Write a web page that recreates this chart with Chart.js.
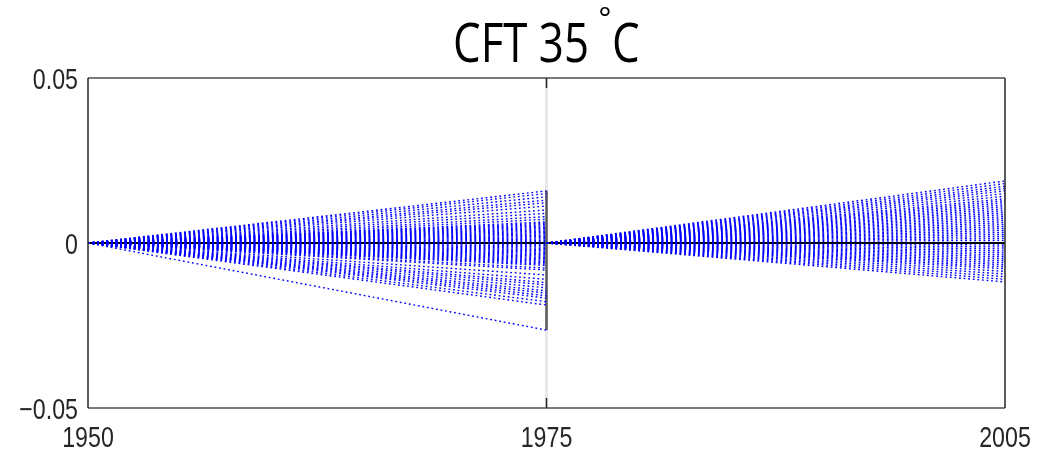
<!DOCTYPE html>
<html>
<head>
<meta charset="utf-8">
<script src="https://cdn.jsdelivr.net/npm/chart.js@4.4.1/dist/chart.umd.min.js"></script>
<style>
  html, body { margin: 0; padding: 0; background: #fff; }
  #wrap { width: 1056px; height: 452px; }
</style>
</head>
<body>
<div id="wrap"><canvas id="cft"></canvas></div>
<script>
// x runs over two periods: 0 = 1950, 1 = 1975, 2 = 2005
const years = ['1950', '1975', '2005'];
const xTickPos = [0, 1, 2];
const yTicks = [-0.05, 0, 0.05];
const yTickLabels = ['\u22120.05', '0', '0.05'];

// ensemble trend at the end of the first period (1950 -> 1975)
const endA = [
  0.0158, 0.0150, 0.0140, 0.0130, 0.0122, 0.0112, 0.0100, 0.0090, 0.0080, 0.0072,
  0.0064, 0.0060, 0.0056, 0.0052, 0.0048, 0.0044, 0.0040, 0.0036, 0.0032, 0.0028,
  0.0024, 0.0020, 0.0016, 0.0012, 0.0008, 0.0004,
  -0.0004, -0.0008, -0.0012, -0.0016, -0.0020, -0.0024, -0.0028, -0.0032, -0.0036,
  -0.0040, -0.0044, -0.0048, -0.0052, -0.0056, -0.0060, -0.0064, -0.0068,
  -0.0076, -0.0082, -0.0097, -0.0110, -0.0120, -0.0127, -0.0136, -0.0145, -0.0152,
  -0.0160, -0.0167, -0.0178, -0.0188, -0.0264
];

// ensemble trend at the end of the second period (1975 -> 2005)
const endB = [
  0.0188, 0.0180, 0.0172, 0.0165, 0.0158, 0.0150, 0.0142,
  0.0134, 0.0128, 0.0122, 0.0116, 0.0110, 0.0104, 0.0098, 0.0092, 0.0086, 0.0080,
  0.0074, 0.0068, 0.0062, 0.0056, 0.0050, 0.0044, 0.0038, 0.0032, 0.0026, 0.0020,
  0.0014, 0.0008,
  -0.0006, -0.0012, -0.0018, -0.0024, -0.0030, -0.0036, -0.0042, -0.0048, -0.0054,
  -0.0060, -0.0066, -0.0072, -0.0078,
  -0.0086, -0.0094, -0.0102, -0.0110, -0.0118
];

const FONT = "'Liberation Sans', sans-serif";
const TITLE_FONT = "'Open Sans', 'Noto Sans', sans-serif";
Chart.defaults.font.family = FONT;

function member(x0, x1, v) {
  return {
    data: [{x: x0, y: 0}, {x: x1, y: v}],
    borderColor: '#0000ff',
    borderWidth: 1.4,
    borderDash: [1.8, 2.8],
    pointRadius: 0,
    fill: false,
    tension: 0
  };
}

const datasets = [];
endA.forEach(v => datasets.push(member(0, 1, v)));
endB.forEach(v => datasets.push(member(1, 2, v)));

// jump back to zero at 1975
datasets.push({
  data: [{x: 1, y: Math.max(...endA)}, {x: 1, y: Math.min(...endA)}],
  borderColor: '#5a5a5a', borderWidth: 2.5, pointRadius: 0, fill: false
});
// zero line
datasets.push({
  data: [{x: 0, y: 0}, {x: 2, y: 0}],
  borderColor: '#000000', borderWidth: 2, pointRadius: 0, fill: false
});

// light marker line at 1975 under the data
const splitLine = {
  id: 'splitLine',
  beforeDatasetsDraw(chart) {
    const {ctx, chartArea: a, scales: {x}} = chart;
    const px = x.getPixelForValue(1);
    ctx.save();
    ctx.strokeStyle = '#e8e8e8';
    ctx.lineWidth = 3;
    ctx.beginPath();
    ctx.moveTo(px, a.top);
    ctx.lineTo(px, a.bottom);
    ctx.stroke();
    ctx.restore();
  }
};

// condensed text helper
function squeezed(ctx, text, x, y, sx, align) {
  const w = ctx.measureText(text).width * sx;
  const left = align === 'right' ? x - w : align === 'center' ? x - w / 2 : x;
  ctx.save();
  ctx.translate(left, y);
  ctx.scale(sx, 1);
  ctx.fillText(text, 0, 0);
  ctx.restore();
}

// box, inward ticks, tick labels and title
const frame = {
  id: 'frame',
  afterDatasetsDraw(chart) {
    const {ctx, chartArea: a, scales: {x, y}} = chart;
    ctx.save();
    ctx.lineWidth = 2;
    ctx.strokeStyle = '#7a7a7a';
    ctx.beginPath();
    ctx.moveTo(a.left, a.top); ctx.lineTo(a.right, a.top);
    ctx.moveTo(a.left, a.bottom); ctx.lineTo(a.right, a.bottom);
    ctx.stroke();
    ctx.lineWidth = 1.5;
    ctx.strokeStyle = '#262626';
    ctx.beginPath();
    ctx.moveTo(a.left, a.top); ctx.lineTo(a.left, a.bottom);
    ctx.moveTo(a.right, a.top); ctx.lineTo(a.right, a.bottom);
    const px = x.getPixelForValue(1);
    ctx.moveTo(px, a.top); ctx.lineTo(px, a.top + 10);
    ctx.moveTo(px, a.bottom); ctx.lineTo(px, a.bottom - 10);
    ctx.stroke();

    ctx.fillStyle = '#262626';
    ctx.textAlign = 'left';
    ctx.textBaseline = 'alphabetic';
    ctx.font = '29px ' + FONT;
    xTickPos.forEach((v, i) => {
      squeezed(ctx, years[i], x.getPixelForValue(v), a.bottom + 39, 0.8, 'center');
    });
    yTicks.forEach((v, i) => {
      squeezed(ctx, yTickLabels[i], a.left - 10, y.getPixelForValue(v) + 11, 0.8, 'right');
    });
    ctx.restore();

    // title: CFT 35°C
    ctx.save();
    ctx.fillStyle = '#000';
    ctx.textBaseline = 'alphabetic';
    ctx.font = '54px ' + TITLE_FONT;
    const s1 = 'CFT 35';
    const sx = 136 / ctx.measureText(s1).width;
    squeezed(ctx, s1, 453, 62, sx, 'left');
    squeezed(ctx, 'C', 612, 62, sx, 'left');
    ctx.font = '30px ' + TITLE_FONT;
    squeezed(ctx, '\u00b0', 605, 28, 1, 'center');
    ctx.restore();
  }
};

new Chart(document.getElementById('cft'), {
  type: 'line',
  data: {datasets},
  options: {
    responsive: true,
    maintainAspectRatio: false,
    animation: false,
    events: [],
    layout: {padding: {top: 78, right: 51, left: 0, bottom: 0}},
    plugins: {legend: {display: false}, tooltip: {enabled: false}, title: {display: false}},
    scales: {
      x: {
        type: 'linear',
        min: 0, max: 2,
        grid: {display: false, drawTicks: false},
        border: {display: false},
        afterBuildTicks: s => { s.ticks = xTickPos.map(v => ({value: v})); },
        afterFit: s => { s.height = 44; },
        ticks: {display: false}
      },
      y: {
        min: -0.05, max: 0.05,
        grid: {display: false, drawTicks: false},
        border: {display: false},
        afterBuildTicks: s => { s.ticks = yTicks.map(v => ({value: v})); },
        afterFit: s => { s.width = 88; },
        ticks: {display: false}
      }
    }
  },
  plugins: [splitLine, frame]
});
</script>
</body>
</html>
